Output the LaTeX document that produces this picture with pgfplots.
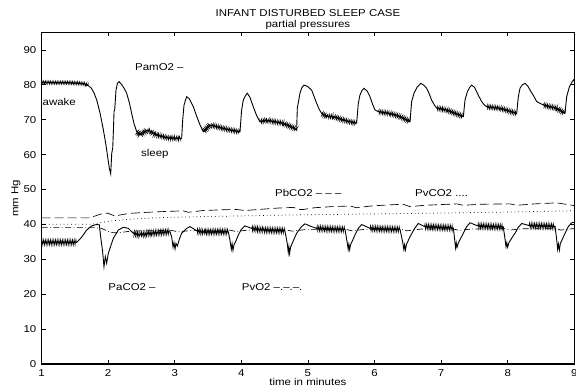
\documentclass[border=0pt]{standalone}
\usepackage{fontspec}
\setmainfont{Liberation Sans}[FakeStretch=1.15]
\usepackage{pgfplots}
\usepackage{pgfplotstable}
\pgfplotsset{compat=1.18}
\usetikzlibrary{decorations.pathmorphing}

\newcommand\chartfont{\fontsize{10}{11}\selectfont}

% breathing ripple drawn on the plateau parts of the arterial curves
\pgfplotsset{
  ripple/.style={black, line width=0.6bp, decorate,
    decoration={zigzag, amplitude=#1, segment length=1.7bp}},
}

% arterial O2 (PamO2)
\pgfplotstableread{
t v
1.000 80.7
1.200 80.6
1.400 80.6
1.600 80.4
1.660 80.2
1.700 79.8
1.750 79.0
1.790 77.6
1.830 75.6
1.880 71.8
1.930 67.0
1.970 62.5
2.000 58.5
2.020 56.0
2.039 54.5
2.055 60.5
2.069 61.8
2.080 67.0
2.089 72.3
2.100 73.0
2.119 78.5
2.140 80.4
2.164 80.9
2.200 80.2
2.240 79.0
2.279 77.6
2.320 74.8
2.354 71.8
2.390 68.8
2.429 66.6
2.479 65.6
2.530 66.2
2.579 67.0
2.630 66.8
2.680 66.0
2.729 65.6
2.800 65.3
2.870 64.9
2.929 64.7
3.000 64.8
3.060 64.6
3.105 64.7
3.120 69.9
3.140 74.2
3.160 75.5
3.180 76.6
3.220 76.0
3.280 73.7
3.330 71.0
3.380 68.5
3.430 66.6
3.480 67.5
3.530 68.5
3.600 68.2
3.730 67.5
3.850 67.0
3.955 66.6
3.980 66.5
4.005 72.8
4.030 75.6
4.060 76.8
4.090 77.6
4.130 76.4
4.180 73.7
4.230 71.2
4.280 69.4
4.380 69.9
4.500 69.4
4.630 69.0
4.720 68.2
4.806 67.5
4.831 67.0
4.841 73.3
4.881 77.6
4.910 79.2
4.941 79.9
4.990 79.6
5.056 78.5
5.090 76.8
5.131 74.7
5.170 73.0
5.206 71.8
5.282 70.9
5.382 70.9
5.460 70.4
5.532 69.9
5.630 69.4
5.732 69.0
5.757 74.7
5.782 77.1
5.810 78.3
5.842 79.0
5.890 78.2
5.932 76.6
5.970 74.5
6.007 72.8
6.057 72.3
6.150 72.0
6.232 71.8
6.300 71.4
6.383 70.9
6.460 70.2
6.533 69.4
6.558 75.2
6.593 77.6
6.640 79.3
6.693 80.4
6.740 79.9
6.783 79.0
6.820 77.5
6.858 75.6
6.900 74.2
6.933 73.3
7.000 73.1
7.083 72.8
7.200 71.9
7.334 70.9
7.359 75.6
7.394 78.0
7.430 79.3
7.459 79.9
7.500 79.3
7.534 78.0
7.570 76.6
7.609 75.2
7.645 74.3
7.684 73.7
7.780 73.5
7.884 73.3
8.000 72.6
8.135 71.8
8.160 76.6
8.185 79.0
8.220 80.0
8.260 80.4
8.300 79.7
8.335 78.5
8.390 76.8
8.435 75.2
8.535 74.2
8.640 73.7
8.735 73.3
8.800 72.5
8.860 71.8
8.886 76.6
8.926 79.4
8.960 80.6
8.986 81.4
9.000 81.0
}\pamo

% arterial CO2 (PaCO2)
\pgfplotstableread{
t v
1.000 34.9
1.250 34.9
1.530 34.9
1.600 36.3
1.678 38.4
1.753 39.6
1.828 40.0
1.868 39.9
1.888 36.5
1.918 32.2
1.938 27.9
1.958 30.8
1.978 28.9
2.003 31.7
2.028 33.2
2.078 36.0
2.153 38.4
2.229 39.2
2.304 38.9
2.379 37.5
2.479 37.0
2.629 37.5
2.780 37.7
2.929 37.9
2.954 36.5
2.975 33.5
2.989 34.8
3.005 33.0
3.019 34.6
3.040 33.8
3.070 35.8
3.104 37.5
3.180 38.9
3.230 39.4
3.330 38.2
3.430 37.8
3.600 37.9
3.805 37.9
3.830 35.5
3.850 32.9
3.862 34.5
3.875 32.6
3.890 34.2
3.920 35.3
3.955 37.0
4.000 38.6
4.055 39.6
4.155 38.9
4.330 38.4
4.500 38.3
4.655 38.2
4.690 34.6
4.705 32.0
4.715 33.6
4.725 31.7
4.740 33.5
4.780 35.3
4.831 37.5
4.900 39.3
4.956 40.2
5.040 39.5
5.131 38.9
5.300 38.7
5.557 38.6
5.592 34.6
5.605 32.9
5.615 34.3
5.627 32.8
5.640 34.2
5.670 35.4
5.707 37.0
5.757 38.9
5.807 40.0
5.932 38.9
6.100 38.7
6.383 38.6
6.423 35.0
6.440 32.9
6.452 34.2
6.464 32.7
6.480 34.3
6.533 36.5
6.600 38.8
6.658 40.3
6.750 39.4
6.950 39.2
7.184 39.0
7.205 35.4
7.218 33.3
7.228 34.7
7.240 33.5
7.260 34.8
7.334 37.5
7.380 39.3
7.434 40.5
7.550 39.6
7.750 39.4
7.934 39.3
7.960 35.8
7.975 33.6
7.987 34.8
7.999 33.5
8.020 34.9
8.110 37.5
8.160 39.2
8.210 40.3
8.320 39.7
8.500 39.6
8.711 39.5
8.735 35.8
8.750 32.9
8.762 34.4
8.776 32.7
8.790 34.5
8.861 37.5
8.910 39.4
8.961 40.5
9.000 40.6
}\paco

% brain CO2 (PbCO2)
\pgfplotstableread{
t v
1.000 41.9
1.400 41.9
1.728 41.9
1.800 42.4
1.878 42.9
1.940 43.2
2.003 43.2
2.050 42.8
2.103 42.4
2.200 42.8
2.329 43.2
2.600 43.5
2.829 43.7
3.130 43.9
3.205 43.5
3.430 44.0
3.700 44.2
3.930 44.3
4.055 44.0
4.330 44.4
4.550 44.7
4.781 44.9
4.881 44.3
4.931 44.3
5.100 44.8
5.350 45.1
5.632 45.3
5.732 44.8
5.950 45.3
6.200 45.6
6.433 45.8
6.533 45.1
6.750 45.5
7.234 45.9
7.334 45.5
7.600 45.8
8.035 45.9
8.135 45.5
8.400 45.9
8.735 46.2
8.935 45.6
9.000 45.4
}\pbco

% venous CO2 (PvCO2)
\pgfplotstableread{
t v
1.000 40.1
1.500 40.1
1.778 40.1
1.900 40.6
2.078 41.1
2.400 41.6
2.829 42.0
3.300 42.2
3.830 42.4
4.400 42.6
5.031 42.8
5.900 43.0
6.733 43.2
7.800 43.5
8.935 43.9
9.000 43.9
}\pvco

% venous O2 (PvO2)
\pgfplotstableread{
t v
1.000 39.1
1.500 39.1
1.800 39.1
1.900 38.9
1.980 38.2
2.050 37.7
2.150 37.6
2.300 38.0
2.500 38.2
2.950 38.3
3.060 37.9
3.250 38.3
3.820 38.4
3.920 38.0
4.100 38.4
4.660 38.5
4.760 38.1
4.950 38.5
5.570 38.6
5.660 38.2
5.850 38.6
6.400 38.6
6.490 38.2
6.700 38.7
7.190 38.7
7.270 38.3
7.450 38.7
7.950 38.8
8.030 38.4
8.220 38.8
8.720 38.8
8.800 38.4
8.970 38.8
9.000 38.8
}\pvo

\begin{document}
\begin{tikzpicture}
\useasboundingbox (-41.5bp,-24.8bp) rectangle (534.5bp,364.2bp);
\begin{axis}[
  at={(0,0)}, anchor=south west,
  scale only axis, width=532.8bp, height=331.8bp,
  xmin=1, xmax=9, ymin=0, ymax=95,
  xtick={1,2,...,9}, ytick={0,10,...,90},
  xtick pos=both, ytick pos=both,
  tick align=inside, major tick length=4bp,
  every tick/.style={black, line width=0.6bp},
  axis line style={line width=0.7bp},
  font=\chartfont,
  ticklabel style={font=\chartfont},
  /pgf/number format/assume math mode=true,
  xticklabel style={anchor=base, yshift=-12bp},
  yticklabel style={anchor=east, inner sep=0pt, xshift=-5bp},
  xlabel={time in minutes},
  ylabel={mm Hg},
  every axis x label/.style={at={(axis description cs:0.5,0)}, anchor=base, yshift=-20.8bp, font=\chartfont},
  every axis y label/.style={at={(axis description cs:-0.0479,0.5)}, rotate=90, anchor=center, font=\chartfont},
  clip mode=individual,
]
% thicker base line
\draw[line width=1.4bp] (rel axis cs:0,0) -- (rel axis cs:1,0);

% venous and brain curves
\addplot[black, line width=0.65bp, dash pattern=on 9bp off 4bp] table {\pbco};
\addplot[black, line width=0.75bp, dash pattern=on 0.7bp off 3bp] table {\pvco};
\addplot[black, line width=0.65bp, dash pattern=on 6bp off 2.5bp on 0.8bp off 2.5bp] table {\pvo};

% arterial curves
\addplot[black, line width=0.9bp] table {\pamo};
\addplot[black, line width=0.9bp] table {\paco};

% ripple on the plateaus
\addplot[ripple=1.6bp, restrict x to domain=1:1.70] table {\pamo};
\addplot[ripple=2.1bp, restrict x to domain=2.42:3.11] table {\pamo};
\addplot[ripple=2.1bp, restrict x to domain=3.42:3.985] table {\pamo};
\addplot[ripple=2.1bp, restrict x to domain=4.27:4.832] table {\pamo};
\addplot[ripple=2.1bp, restrict x to domain=5.20:5.735] table {\pamo};
\addplot[ripple=2.1bp, restrict x to domain=6.05:6.535] table {\pamo};
\addplot[ripple=2.1bp, restrict x to domain=6.93:7.335] table {\pamo};
\addplot[ripple=2.1bp, restrict x to domain=7.68:8.136] table {\pamo};
\addplot[ripple=2.1bp, restrict x to domain=8.53:8.861] table {\pamo};

\addplot[ripple=2.7bp, restrict x to domain=1:1.53] table {\paco};
\addplot[ripple=2.7bp, restrict x to domain=2.37:2.93] table {\paco};
\addplot[ripple=2.7bp, restrict x to domain=3.32:3.806] table {\paco};
\addplot[ripple=2.7bp, restrict x to domain=4.15:4.656] table {\paco};
\addplot[ripple=2.7bp, restrict x to domain=5.13:5.558] table {\paco};
\addplot[ripple=2.7bp, restrict x to domain=5.93:6.384] table {\paco};
\addplot[ripple=2.7bp, restrict x to domain=6.75:7.185] table {\paco};
\addplot[ripple=2.7bp, restrict x to domain=7.55:7.935] table {\paco};
\addplot[ripple=2.7bp, restrict x to domain=8.32:8.712] table {\paco};

% curve names and annotations
\node[anchor=west, inner sep=0pt] at (axis cs:2.404,85.0) {PamO2 –};
\node[anchor=west, inner sep=0pt, xshift=1bp] at (axis cs:1,75.2) {awake};
\node[anchor=west, inner sep=0pt] at (axis cs:2.494,60.1) {sleep};
\node[anchor=west, inner sep=0pt] at (axis cs:4.506,49.1) {PbCO2 – – –};
\node[anchor=west, inner sep=0pt] at (axis cs:6.608,48.9) {PvCO2 ....};
\node[anchor=west, inner sep=0pt] at (axis cs:2.003,22.0) {PaCO2 –};
\node[anchor=west, inner sep=0pt] at (axis cs:4.006,22.0) {PvO2 –.–.–.};

% two-line heading
\node[anchor=base, yshift=15.5bp] at (rel axis cs:0.5,1) {INFANT DISTURBED SLEEP CASE};
\node[anchor=base, yshift=4.6bp] at (rel axis cs:0.5,1) {partial pressures};
\end{axis}
\end{tikzpicture}
\end{document}
